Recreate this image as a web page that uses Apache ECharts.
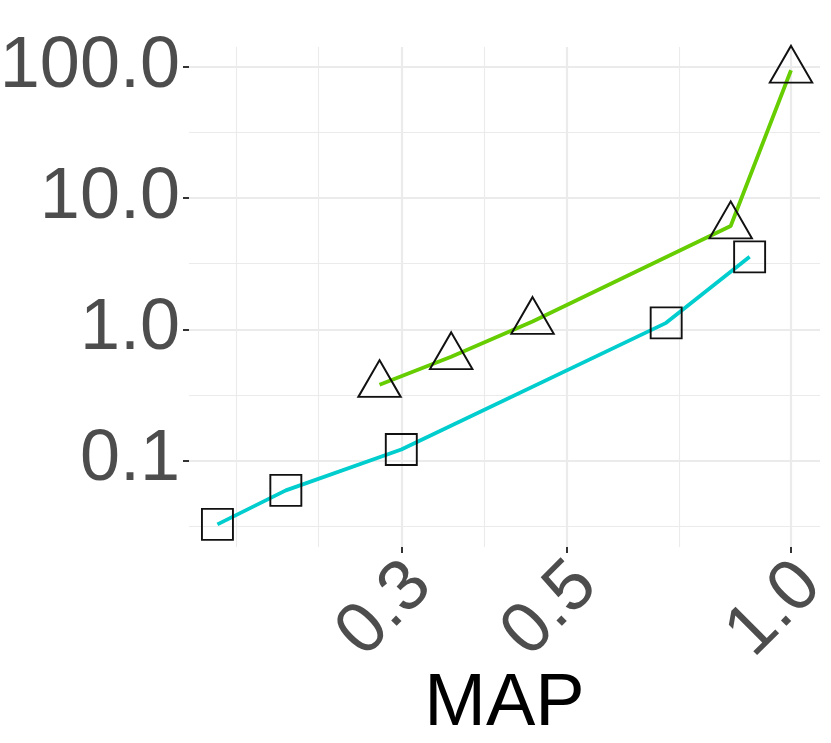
<!DOCTYPE html>
<html><head><meta charset="utf-8">
<script src="https://cdn.jsdelivr.net/npm/echarts@6/dist/echarts.min.js"></script>
<style>html,body{margin:0;padding:0;background:#fff}#c{width:831px;height:743px}</style>
</head><body><div id="c"></div>
<script>
// ---- data ----
const cyanMAP  = [0.170, 0.210, 0.300, 0.680, 0.880];
const cyanTime = [0.0325, 0.0591, 0.121, 1.12, 3.57];
const greenMAP  = [0.2805, 0.350, 0.450, 0.830, 1.0];
const greenTime = [0.378, 0.617, 1.145, 6.14, 94.5];
// ---- axes ----
const xTicks = [0.3, 0.5, 1.0];
const xMinorGrid = [0.18, 0.2324, 0.3873, 0.7071];
const yTicks = [0.1, 1, 10, 100];
const yMinorGrid = [0.03162, 0.3162, 3.162, 31.62];
const xRange = [0.1557, 1.0937];
const yRange = [0.02185, 142.3];

const L = Math.log10;
const FONT = "'Liberation Sans', Arial, Helvetica, sans-serif";
const fmt = v => Math.pow(10, v).toFixed(1);

const chart = echarts.init(document.getElementById('c'), null, {renderer: 'canvas'});
chart.setOption({
  backgroundColor: '#fff',
  animation: false,
  grid: {left: 189, right: 11, top: 47, bottom: 196, containLabel: false, outerBoundsMode: 'none'},
  xAxis: [{
    type: 'value', position: 'bottom',
    min: L(xRange[0]), max: L(xRange[1]),
    axisLine: {show: false, onZero: false},
    axisTick: {show: true, length: 6, customValues: xTicks.map(L), lineStyle: {color: '#333', width: 2}},
    axisLabel: {customValues: xTicks.map(L), formatter: fmt, rotate: 45, align: 'right', verticalAlign: 'top',
      lineHeight: 54, margin: 8, fontSize: 72, color: '#4d4d4d', fontFamily: FONT},
    splitLine: {show: true, lineStyle: {color: '#ebebeb', width: 2.2}},
    name: 'MAP', nameLocation: 'middle', nameGap: 131, nameMoveOverlap: false,
    nameTextStyle: {fontSize: 74, color: '#000', fontFamily: FONT, verticalAlign: 'top', lineHeight: 54}
  }, {
    type: 'value', position: 'top',
    min: L(xRange[0]), max: L(xRange[1]),
    axisLine: {show: false, onZero: false},
    axisTick: {show: false, customValues: xMinorGrid.map(L)},
    axisLabel: {show: false, customValues: xMinorGrid.map(L)},
    splitLine: {show: true, lineStyle: {color: '#ebebeb', width: 1.1}}
  }],
  yAxis: [{
    type: 'value', position: 'left',
    min: L(yRange[0]), max: L(yRange[1]),
    axisLine: {show: false, onZero: false},
    axisTick: {show: true, length: 6, customValues: yTicks.map(L), lineStyle: {color: '#333', width: 2}},
    axisLabel: {customValues: yTicks.map(L), formatter: fmt, margin: 9, fontSize: 72, color: '#4d4d4d', fontFamily: FONT},
    splitLine: {show: true, lineStyle: {color: '#ebebeb', width: 2.2}}
  }, {
    type: 'value', position: 'right',
    min: L(yRange[0]), max: L(yRange[1]),
    axisLine: {show: false, onZero: false},
    axisTick: {show: false, customValues: yMinorGrid.map(L)},
    axisLabel: {show: false, customValues: yMinorGrid.map(L)},
    splitLine: {show: true, lineStyle: {color: '#ebebeb', width: 1.1}}
  }],
  series: [{
    type: 'line', xAxisIndex: 0, yAxisIndex: 0,
    data: cyanMAP.map((m, i) => [L(m), L(cyanTime[i])]),
    lineStyle: {color: '#00CDCD', width: 3.8},
    symbol: 'rect', symbolSize: 31, showAllSymbol: true,
    itemStyle: {color: 'rgba(0,0,0,0)', borderColor: '#111', borderWidth: 1.9},
    z: 3
  }, {
    type: 'line', xAxisIndex: 0, yAxisIndex: 0,
    data: greenMAP.map((m, i) => [L(m), L(greenTime[i])]),
    lineStyle: {color: '#66CD00', width: 3.8},
    symbol: 'triangle', symbolSize: [42.5, 36.8], symbolOffset: [0, -6.1], showAllSymbol: true,
    itemStyle: {color: 'rgba(0,0,0,0)', borderColor: '#111', borderWidth: 1.9},
    z: 3
  }]
});
</script>
</body></html>
